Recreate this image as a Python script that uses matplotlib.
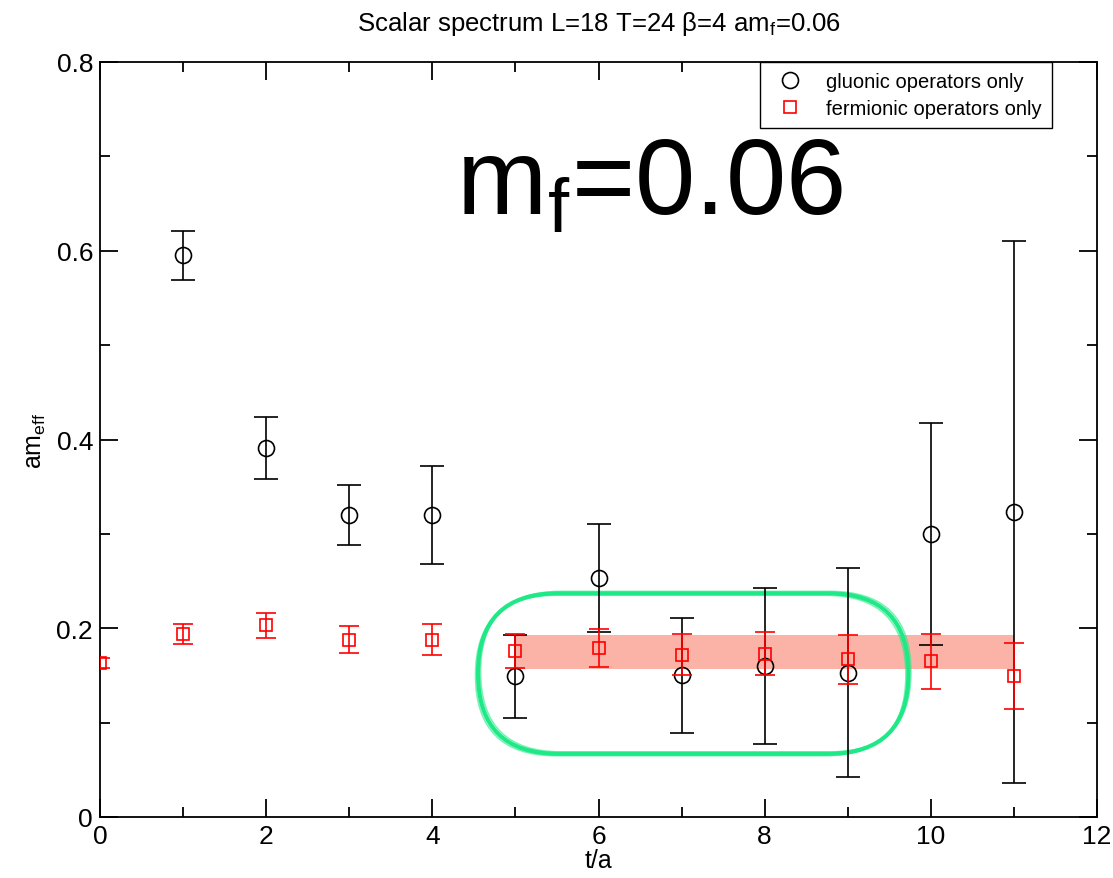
import matplotlib
matplotlib.use("Agg")
import matplotlib.pyplot as plt
from matplotlib.patches import FancyBboxPatch, Rectangle
from matplotlib.lines import Line2D
from matplotlib.ticker import MultipleLocator, FuncFormatter

plt.rcParams['font.family'] = ['Liberation Sans', 'DejaVu Sans']
plt.rcParams['mathtext.fontset'] = 'custom'
plt.rcParams['mathtext.rm'] = 'Liberation Sans'

# effective masses, gluonic operators
t_glue = [1, 2, 3, 4, 5, 6, 7, 8, 9, 10, 11]
m_glue = [0.595, 0.391, 0.320, 0.320, 0.149, 0.253, 0.150, 0.160, 0.153, 0.300, 0.323]
e_glue = [0.026, 0.033, 0.032, 0.052, 0.044, 0.057, 0.061, 0.083, 0.111, 0.118, 0.287]

# effective masses, fermionic operators
t_ferm = [0, 1, 2, 3, 4, 5, 6, 7, 8, 9, 10, 11]
m_ferm = [0.163, 0.194, 0.203, 0.188, 0.188, 0.1755, 0.179, 0.172, 0.173, 0.167, 0.165, 0.149]
e_ferm = [0.005, 0.011, 0.013, 0.014, 0.016, 0.018, 0.020, 0.022, 0.023, 0.026, 0.029, 0.035]

# plateau fit band
band_t = [5, 11]
band_m = [0.157, 0.193]

# highlighted plateau region
oval_t = [4.55, 9.73]
oval_m = [0.067, 0.237]

fig = plt.figure(figsize=(11.13, 8.79), dpi=100)
ax = fig.add_axes([100 / 1113, 1 - 818 / 879, 997 / 1113, 755 / 879])

ax.set_xlim(0, 12)
ax.set_ylim(0, 0.8)

ax.add_patch(Rectangle((band_t[0], band_m[0]), band_t[1] - band_t[0], band_m[1] - band_m[0],
                       facecolor='#fcb3a7', edgecolor='none', zorder=1))

# stadium outline: equal pixel radius on both axes
px_x = 997 / 12.0
px_y = 755 / 0.8
h = oval_m[1] - oval_m[0]
r_x = (h / 2) * px_y / px_x
aspect = px_x / px_y
for dx, dy, lw, al in [(0, 0, 3.0, 1.0), (0.03, 0.002, 1.2, 0.6), (-0.03, -0.002, 1.2, 0.6)]:
    ax.add_patch(FancyBboxPatch((oval_t[0] + dx, oval_m[0] + dy), oval_t[1] - oval_t[0], h,
                                boxstyle=f"round,pad=0,rounding_size={r_x * 0.999:.4f}",
                                mutation_aspect=aspect, facecolor='none',
                                edgecolor='#1fe986', linewidth=lw, alpha=al, zorder=2))

ax.errorbar(t_glue, m_glue, yerr=e_glue, fmt='o', mfc='none', mec='black', ecolor='black',
            ms=11.5, mew=1.2, elinewidth=1.2, capsize=8.5, capthick=1.2, zorder=3,
            label='gluonic operators only')
ax.errorbar(t_ferm, m_ferm, yerr=e_ferm, fmt='s', mfc='none', mec='red', ecolor='red',
            ms=8.5, mew=1.2, elinewidth=1.2, capsize=7, capthick=1.2, zorder=4,
            label='fermionic operators only')

ax.xaxis.set_major_locator(MultipleLocator(2))
ax.xaxis.set_minor_locator(MultipleLocator(1))
ax.yaxis.set_major_locator(MultipleLocator(0.2))
ax.yaxis.set_minor_locator(MultipleLocator(0.1))
fmt = FuncFormatter(lambda v, p: f"{v:g}")
ax.xaxis.set_major_formatter(fmt)
ax.yaxis.set_major_formatter(fmt)
ax.tick_params(which='both', direction='in', top=True, right=True, width=1.3, labelsize=19)
ax.tick_params(which='major', length=13, pad=5)
ax.tick_params(which='minor', length=7)
for s in ax.spines.values():
    s.set_linewidth(1.3)

ax.set_xlabel('t/a', fontsize=18, labelpad=0)
ax.set_ylabel(r'am$_\mathregular{eff}$', fontsize=18, labelpad=6)
ax.set_title(r'Scalar spectrum L=18 T=24 β=4 am$_\mathregular{f}$=0.06', fontsize=18.5, pad=23)

ax.text(4.28, 0.640, r'm$_\mathregular{f}$=0.06', fontsize=78, ha='left', va='baseline', zorder=5)

labels = ['gluonic operators only', 'fermionic operators only']
h1 = Line2D([], [], ls='none', marker='o', mfc='none', mec='black', ms=11.5, mew=1.2)
h2 = Line2D([], [], ls='none', marker='s', mfc='none', mec='red', ms=8.5, mew=1.2)
leg = ax.legend([h1, h2], labels, loc='upper right', bbox_to_anchor=(0.955, 1.0),
                borderaxespad=0, fontsize=14.5, frameon=True, fancybox=False,
                edgecolor='black', framealpha=1, handletextpad=0.8, borderpad=0.5,
                labelspacing=0.4, handlelength=2.0)
leg.get_frame().set_linewidth(1.0)

fig.savefig('out.png', dpi=100)
